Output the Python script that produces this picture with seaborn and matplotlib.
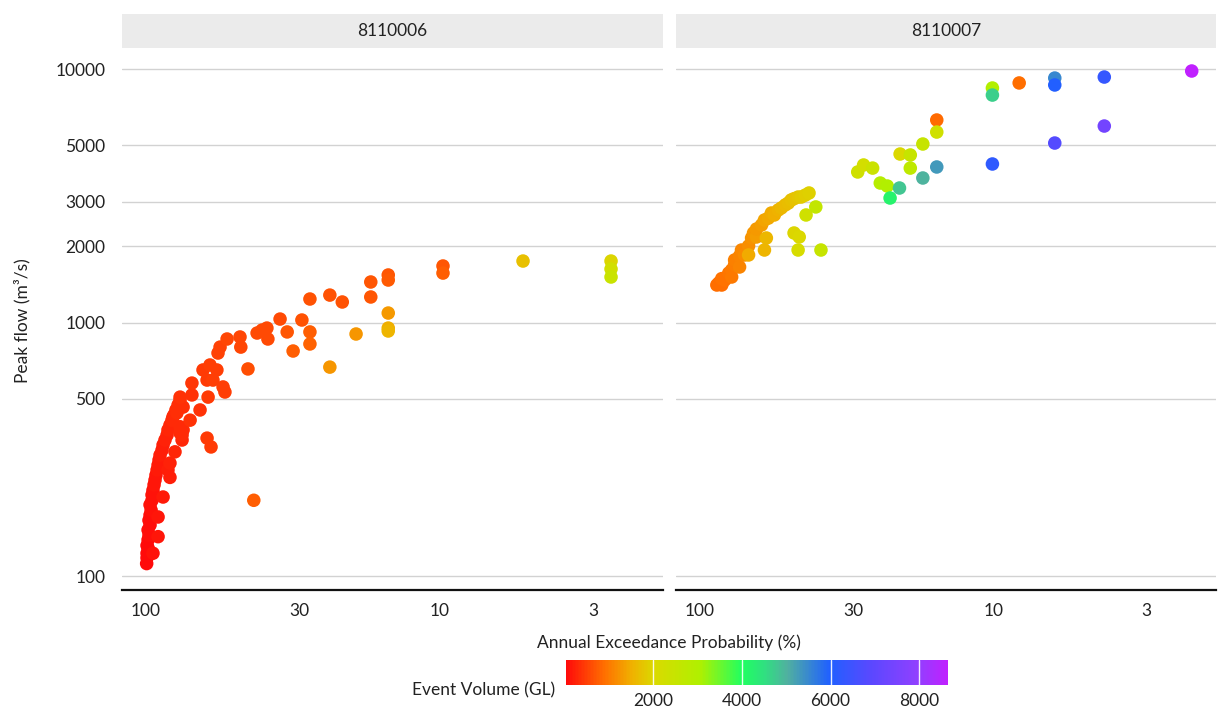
import numpy as np
import pandas as pd
import matplotlib
matplotlib.use("Agg")
import matplotlib.pyplot as plt
import seaborn as sns
from matplotlib.colors import LinearSegmentedColormap, Normalize
from matplotlib.ticker import FixedLocator, FixedFormatter, NullLocator
from matplotlib.patches import Rectangle
from matplotlib.cm import ScalarMappable

sns.set_theme(style="white")
plt.rcParams["font.family"] = ["Lato", "DejaVu Sans"]

gauges = ["8110006", "8110007"]

# Gauge 8110006: annual exceedance probability (%), peak flow (m3/s), event volume (GL)
aep_8110006 = [
    99.5, 99.2, 99.2, 98.4, 99.2, 98.4, 97.7, 98.4, 96.9, 97.7, 96.9, 96.1, 96.9, 95.4,
    95.4, 94.7, 93.9, 93.2, 92.5, 91.7, 91.0, 90.3, 89.6, 88.2, 87.5, 86.2, 84.8, 84.2,
    82.9, 81.6, 80.3, 79.1, 77.8, 76.6,
    94.7, 91.0, 91.0, 87.5, 84.2, 82.9, 82.9, 76.6, 74.8, 75.4, 79.7, 75.4, 76.6,
    70.8, 81.0, 78.5, 74.8, 65.5, 76.6, 69.8, 69.8, 61.5, 53.9, 54.7, 62.0, 59.2,
    64.0, 60.6, 57.4, 56.9, 56.0, 53.0, 47.9, 47.6, 45.0, 38.5, 41.9, 40.3, 38.8,
    35.0, 29.5, 27.7, 27.7, 33.1, 31.6, 23.7, 27.7, 21.5, 23.7, 17.2, 17.2,
    15.0, 15.0, 15.0, 15.0, 15.0, 19.3, 62.0, 60.1, 43.0,
    9.77, 9.77, 5.22, 2.62, 2.62, 2.62,
]
flow_8110006 = [
    112, 118, 123, 129, 132, 139, 145, 152, 159, 166, 174, 182, 191, 199,
    209, 218, 229, 239, 250, 262, 274, 287, 300, 314, 329, 344, 360, 377,
    394, 412, 432, 452, 473, 495,
    123, 143, 171, 205, 262, 245, 279, 367, 377, 344, 309, 360, 388,
    412, 424, 440, 464, 452, 508, 518, 577, 508, 532, 557, 593, 593,
    650, 680, 650, 758, 800, 861, 877, 800, 656, 861, 909, 934, 951,
    1032, 1023, 918, 823, 918, 772, 667, 1238, 1205, 1283, 1445, 1261,
    1540, 1471, 1090, 951, 926, 901, 350, 323, 199,
    1671, 1567, 1748, 1748, 1626, 1512,
]
vol_8110006 = [
    30, 40, 50, 55, 50, 60, 70, 65, 80, 85, 90, 100, 105, 110,
    120, 130, 140, 150, 160, 170, 180, 190, 200, 215, 230, 245, 260, 275,
    290, 305, 320, 335, 350, 365,
    110, 150, 160, 190, 220, 230, 240, 300, 310, 290, 270, 300, 310,
    380, 330, 340, 360, 400, 380, 400, 420, 450, 500, 490, 460, 470,
    450, 470, 490, 520, 520, 540, 560, 550, 620, 600, 580, 580, 600,
    600, 640, 760, 780, 700, 760, 1250, 640, 660, 650, 680, 700,
    680, 720, 1300, 1500, 1550, 1250, 440, 450, 760,
    700, 740, 1700, 1950, 2250, 2450,
]

# Gauge 8110007
aep_8110007 = [
    87.6, 86.3, 84.3, 82.3, 84.3, 79.8, 78.0, 78.0, 76.2, 76.2, 73.3, 73.3, 72.2, 70.5,
    68.3, 68.3, 66.7, 65.7, 64.2, 64.2, 61.7, 60.3, 60.3, 59.4, 58.5, 57.1, 55.8, 54.1,
    52.8, 51.2, 50.0, 48.9, 47.8, 46.3, 45.2, 43.8, 42.5,
    47.8, 45.9, 46.3, 38.7, 43.5, 40.3,
    29.0, 27.7, 25.8, 24.3, 23.0, 22.5, 20.9, 20.8, 19.2, 19.2, 17.4, 17.4,
    15.6, 15.6, 15.6, 10.08, 10.08, 10.08, 8.17, 6.18, 6.18, 6.18, 4.19, 4.19, 2.11,
]
flow_8110007 = [
    1406, 1432, 1406, 1471, 1490, 1567, 1512, 1611, 1690, 1765, 1656, 1830, 1932, 1847,
    2004, 1847, 2155, 2255, 2175, 2338, 2425, 2537, 1932, 2155, 2580, 2704, 2656, 2779,
    2831, 2910, 2960, 3043, 3080, 3126, 3126, 3180, 3243,
    2255, 2175, 1932, 1932, 2656, 2857,
    3925, 4182, 4066, 3550, 3455, 3098, 3393, 4620, 4580, 4066, 5060, 3716,
    6293, 5640, 4107, 8414, 7892, 4220, 8810, 9211, 8650, 5105, 9296, 5957, 9820,
]
vol_8110007 = [
    880, 880, 900, 920, 920, 960, 980, 1000, 1030, 1060, 1080, 1100, 1130, 1160,
    1180, 1450, 1220, 1260, 1320, 1300, 1340, 1380, 1550, 1600, 1420, 1460, 1500, 1540,
    1580, 1620, 1660, 1700, 1740, 1780, 1820, 1860, 1900,
    1950, 2000, 2100, 2500, 2300, 2600,
    2300, 2200, 2400, 2900, 3000, 4200, 4800, 2000, 2500, 2700, 2500, 5000,
    850, 2300, 5300, 3000, 4700, 6200, 900, 5500, 6000, 6800, 6300, 7400, 8650,
]

x_ticks = [100, 30, 10, 3]
y_ticks = [100, 500, 1000, 2000, 3000, 5000, 10000]
cbar_ticks = [2000, 4000, 6000, 8000]

df = pd.concat([
    pd.DataFrame({"gauge": gauges[0], "aep": aep_8110006, "flow": flow_8110006, "volume": vol_8110006}),
    pd.DataFrame({"gauge": gauges[1], "aep": aep_8110007, "flow": flow_8110007, "volume": vol_8110007}),
], ignore_index=True)

rainbow = LinearSegmentedColormap.from_list("rainbow_volume", [
    (0.00, "#ff0a0a"), (0.10, "#ff7000"), (0.17, "#f0b000"), (0.23, "#dada00"),
    (0.35, "#b0f000"), (0.46, "#20ff60"), (0.52, "#30e080"), (0.58, "#50b0a0"),
    (0.69, "#2060ff"), (0.80, "#5a48ff"), (0.92, "#9040ff"), (1.00, "#c020ff"),
])
norm = Normalize(vmin=df["volume"].min(), vmax=df["volume"].max())

W, H = 1219, 716
fig = plt.figure(figsize=(W / 100, H / 100), dpi=100)


def fy(py):
    return 1 - py / H


panels = [(122, 541), (676, 540)]
axes = []
for i, (g, (x0, w)) in enumerate(zip(gauges, panels)):
    ax = fig.add_axes([x0 / W, fy(590), w / W, 538 / H], sharey=axes[0] if axes else None)
    axes.append(ax)
    sub = df[df["gauge"] == g]
    sns.scatterplot(data=sub, x="aep", y="flow", hue="volume", palette=rainbow,
                    hue_norm=norm, s=95, linewidth=0, alpha=1, legend=False, ax=ax, zorder=3)
    ax.set_xscale("log")
    ax.set_yscale("log")
    ax.set_xlim(120.7, 1.744)
    ax.set_ylim(88.1, 11670)
    ax.xaxis.set_major_locator(FixedLocator(x_ticks))
    ax.xaxis.set_major_formatter(FixedFormatter([str(t) for t in x_ticks]))
    ax.xaxis.set_minor_locator(NullLocator())
    ax.yaxis.set_major_locator(FixedLocator(y_ticks))
    ax.yaxis.set_major_formatter(FixedFormatter([str(t) for t in y_ticks]))
    ax.yaxis.set_minor_locator(NullLocator())
    ax.set_xlabel("")
    ax.set_ylabel("")
    for side in ["left", "top", "right"]:
        ax.spines[side].set_visible(False)
    ax.spines["bottom"].set_color("#111111")
    ax.spines["bottom"].set_linewidth(1.6)
    ax.yaxis.grid(True, color="#d2d2d2", linewidth=1.0)
    ax.xaxis.grid(False)
    ax.set_axisbelow(True)
    ax.tick_params(axis="x", direction="in", length=5, width=1.3, color="#111111",
                   labelsize=12.5, pad=9, labelcolor="#222222")
    ax.tick_params(axis="y", length=0, labelsize=12.5, pad=12, labelcolor="#222222",
                   labelleft=(i == 0))
    # facet strip
    fig.patches.append(Rectangle((x0 / W, fy(48)), w / W, 34 / H, transform=fig.transFigure,
                                 facecolor="#ebebeb", edgecolor="none", zorder=0))
    fig.text((x0 + w / 2) / W, fy(31), g, ha="center", va="center", fontsize=12.5, color="#222222")

fig.text(669 / W, fy(643), "Annual Exceedance Probability (%)", ha="center", va="center",
         fontsize=12.5, color="#222222")
fig.text(22 / W, fy(321), "Peak flow (m³/s)", ha="center", va="center", rotation=90,
         fontsize=12.5, color="#222222")

cax = fig.add_axes([566 / W, fy(685), 382 / W, 25 / H])
cb = fig.colorbar(ScalarMappable(norm=norm, cmap=rainbow), cax=cax, orientation="horizontal")
cb.outline.set_visible(False)
cb.set_ticks(cbar_ticks)
cb.set_ticklabels([str(t) for t in cbar_ticks])
cax.tick_params(length=0, pad=6, labelsize=12.5, labelcolor="#222222")
for t in cbar_ticks:
    cax.axvline(t, color="white", linewidth=1.0, alpha=0.9)
fig.text(555 / W, fy(690), "Event Volume (GL)", ha="right", va="center", fontsize=12.5,
         color="#222222")

fig.savefig("out.png", dpi=100, facecolor="white")
